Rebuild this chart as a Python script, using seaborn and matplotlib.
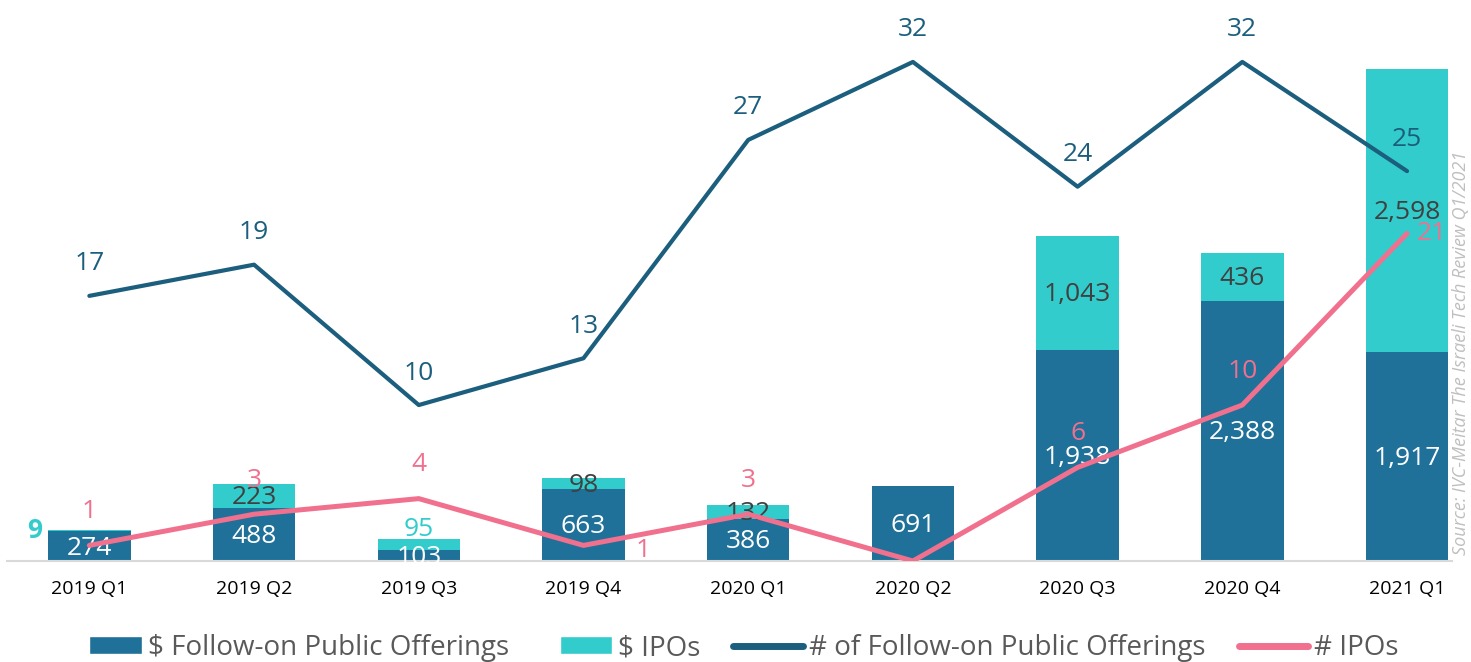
import numpy as np
import pandas as pd
import matplotlib
matplotlib.use("Agg")
import matplotlib.pyplot as plt
from matplotlib.patches import Patch, Rectangle
from matplotlib.lines import Line2D
from matplotlib.legend_handler import HandlerPatch
import seaborn as sns

# data
quarters = ["2019 Q1", "2019 Q2", "2019 Q3", "2019 Q4", "2020 Q1",
            "2020 Q2", "2020 Q3", "2020 Q4", "2021 Q1"]
followon_usd = [274, 488, 103, 663, 386, 691, 1938, 2388, 1917]
ipo_usd = [9, 223, 95, 98, 132, 0, 1043, 436, 2598]
followon_count = [17, 19, 10, 13, 27, 32, 24, 32, 25]
ipo_count = [1, 3, 4, 1, 3, 0, 6, 10, 21]

C_FOLLOW = "#1F7199"
C_IPO = "#33CCCC"
C_FOLLOW_LINE = "#1B5E7E"
C_IPO_LINE = "#F0708E"

sns.set_theme(style="white")
plt.rcParams["font.family"] = ["Open Sans", "DejaVu Sans"]

df = pd.DataFrame({
    "quarter": quarters,
    "followon": followon_usd,
    "ipo": ipo_usd,
    "total": np.array(followon_usd) + np.array(ipo_usd),
    "n_follow": followon_count,
    "n_ipo": ipo_count,
    "pos": np.arange(len(quarters)),
})

fig = plt.figure(figsize=(14.71, 6.62), dpi=100)
ax = fig.add_axes([7 / 1471, 101 / 662, 1445 / 1471, 551 / 662])

# stacked bars: totals (cyan) first, follow-on (dark blue) over them
sns.barplot(data=df, x="quarter", y="total", color=C_IPO, width=0.5,
            saturation=1, linewidth=0, ax=ax, zorder=2)
sns.barplot(data=df, x="quarter", y="followon", color=C_FOLLOW, width=0.5,
            saturation=1, linewidth=0, ax=ax, zorder=2)
ax.set_xlim(-0.5, 8.273)
ax.set_ylim(0, 5056)

ax2 = ax.twinx()
sns.lineplot(data=df, x="pos", y="n_follow", color=C_FOLLOW_LINE, linewidth=3,
             ax=ax2, zorder=3, solid_capstyle="round")
sns.lineplot(data=df, x="pos", y="n_ipo", color=C_IPO_LINE, linewidth=3.6,
             ax=ax2, zorder=3, solid_capstyle="round")
ax2.set_ylim(0, 35.33)
ax2.set_xlim(-0.5, 8.273)

for a in (ax, ax2):
    a.set_xlabel("")
    a.set_ylabel("")
    a.set_yticks([])
    for s in a.spines.values():
        s.set_visible(False)
ax.spines["bottom"].set_visible(True)
ax.spines["bottom"].set_color("#D9D9D9")
ax.spines["bottom"].set_linewidth(1.5)
ax.tick_params(axis="x", length=0, pad=14, labelsize=14, labelcolor="black")

# bar value labels
for i, row in df.iterrows():
    t = ax.annotate(f"{row['followon']:,}", (i, row["followon"] / 2),
                    xytext=(0, -2), textcoords="offset pixels", ha="center",
                    va="center", color="white", fontsize=19, zorder=4)
    t.set_clip_on(True)
    if row["ipo"] == 0:
        continue
    mid = row["followon"] + row["ipo"] / 2
    if row["ipo"] < 20:
        # tiny segment: label sits left of the bar
        ax.annotate(f"{row['ipo']:,}", (i - 0.25, mid), xytext=(-14, 0),
                    textcoords="offset pixels", ha="center", va="center",
                    color=C_IPO, fontsize=19, fontweight="bold", zorder=4)
    elif row["ipo"] < 98:
        ax.annotate(f"{row['ipo']:,}", (i, row["total"]), xytext=(0, 10),
                    textcoords="offset pixels", ha="center", va="center",
                    color=C_IPO, fontsize=19, zorder=4)
    else:
        ax.annotate(f"{row['ipo']:,}", (i, mid), xytext=(0, -2),
                    textcoords="offset pixels", ha="center", va="center",
                    color="#404040", fontsize=19, zorder=4)

# line value labels
n = len(df)
for i, row in df.iterrows():
    ax2.annotate(str(row["n_follow"]), (i, row["n_follow"]), xytext=(0, 32),
                 textcoords="offset pixels", ha="center", va="center",
                 color=C_FOLLOW_LINE, fontsize=19, zorder=5)
    v = row["n_ipo"]
    if v == 0:
        continue
    if i == n - 1:
        off = (25, 0)
    elif 0 < i < n - 1 and v < df["n_ipo"][i - 1] and v < df["n_ipo"][i + 1]:
        off = (60, -5)
    else:
        off = (0, 34)
    ax2.annotate(str(v), (i, v), xytext=off, textcoords="offset pixels",
                 ha="center", va="center", color=C_IPO_LINE, fontsize=19,
                 zorder=5)

fig.text(1461 / 1471, 107 / 662,
         "Source: IVC-Meitar The Israeli Tech Review Q1/2021",
         rotation=90, ha="center", va="bottom", fontsize=13, style="italic",
         color="#BFBFBF")


def narrow_rect(legend, orig_handle, xdescent, ydescent, width, height, fontsize):
    w = width * 0.75
    return Rectangle((-xdescent + width - w, -ydescent), w, height)


handles = [
    Patch(facecolor=C_FOLLOW, label="$ Follow-on Public Offerings"),
    Patch(facecolor=C_IPO, label="$ IPOs"),
    Line2D([], [], color=C_FOLLOW_LINE, lw=5, solid_capstyle="round",
           label="# of Follow-on Public Offerings"),
    Line2D([], [], color=C_IPO_LINE, lw=5, solid_capstyle="round",
           label="# IPOs"),
]
fig.legend(handles=handles, loc="center", bbox_to_anchor=(0.5, 0.021),
           ncol=4, frameon=False, fontsize=20, handlelength=2.5,
           handleheight=0.6, handletextpad=0.22, columnspacing=1.2,
           labelcolor="#595959",
           handler_map={Patch: HandlerPatch(patch_func=narrow_rect)})

fig.savefig("out.png", dpi=100)
